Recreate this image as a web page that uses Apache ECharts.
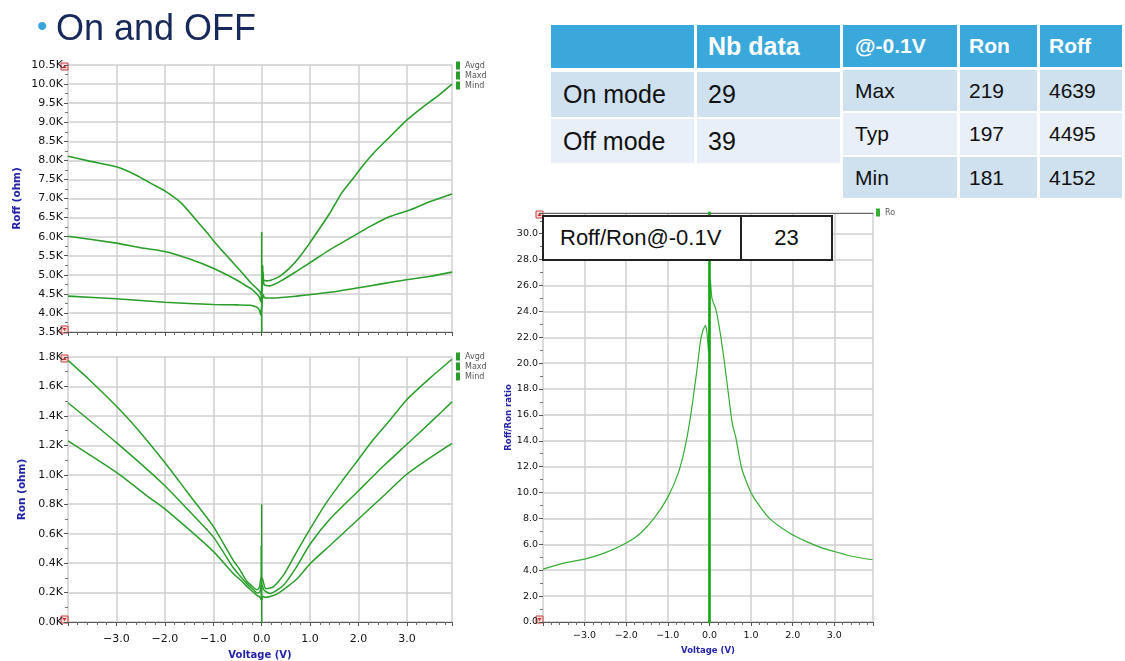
<!DOCTYPE html>
<html>
<head>
<meta charset="utf-8">
<script src="https://cdn.jsdelivr.net/npm/echarts@6/dist/echarts.min.js"></script>
<style>
  html,body{margin:0;padding:0;background:#fff;}
  #wrap{position:relative;width:1125px;height:661px;overflow:hidden;background:#fff;font-family:'Liberation Sans',Arial,sans-serif;}
  #chart{position:absolute;left:0;top:0;width:1125px;height:661px;}
  .cell{position:absolute;display:flex;align-items:center;box-sizing:border-box;white-space:nowrap;}
</style>
</head>
<body>
<div id="wrap">
  <div id="chart"></div>
</div>
<script>
// ---------------- data ----------------
const titleText = 'On and OFF';

const tableModes = ['On mode', 'Off mode'];
const tableNbHeader = 'Nb data';
const tableNb = [29, 39];

const statHeader = ['@-0.1V', 'Ron', 'Roff'];
const statRows = ['Max', 'Typ', 'Min'];
const statRon = [219, 197, 181];
const statRoff = [4639, 4495, 4152];

const ratioLabel = 'Roff/Ron@-0.1V';
const ratioAtMinus01 = 23;

const seriesNames = ['Avg data', 'Max data', 'Min data'];
const ratioName = 'Roff/Ron ratio';

// Roff (ohm) vs Voltage (V)
const roffMax = [[-4.0,8110],[-3.56,7980],[-3.0,7830],[-2.59,7610],[-2.25,7370],[-2.0,7200],[-1.66,6880],[-1.35,6430],[-1.14,6120],[-1.0,5900],[-0.73,5510],[-0.45,5120],[-0.24,4810],[-0.1,4640],[-0.04,4560],[-0.01,4480],[0.01,4900],[0.02,5250],[0.03,4870],[0.1,4840],[0.17,4850],[0.37,4960],[0.58,5180],[0.79,5480],[0.99,5830],[1.2,6220],[1.41,6620],[1.65,7140],[1.89,7530],[2.1,7880],[2.37,8270],[2.65,8620],[3.0,9060],[3.34,9410],[3.62,9670],[3.93,10000]];
const roffAvg = [[-4.0,6010],[-3.0,5830],[-2.5,5710],[-2.0,5610],[-1.5,5420],[-1.0,5170],[-0.5,4850],[-0.31,4700],[-0.2,4620],[-0.1,4495],[-0.05,4420],[-0.02,4300],[0.01,4700],[0.03,5050],[0.05,4740],[0.17,4710],[0.44,4870],[0.72,5090],[0.99,5310],[1.41,5660],[1.82,5960],[2.24,6270],[2.65,6530],[3.06,6700],[3.48,6920],[3.93,7120]];
const roffMin = [[-4.0,4440],[-3.0,4370],[-2.0,4280],[-1.0,4220],[-0.5,4210],[-0.24,4200],[-0.14,4170],[-0.1,4152],[-0.05,4080],[-0.02,3950],[0.01,4300],[0.03,4480],[0.06,4400],[0.24,4390],[0.72,4440],[1.41,4540],[2.1,4680],[2.79,4830],[3.48,4960],[3.93,5070]];
const roffSpike = [[0.0,3300],[0.0,6120]];

// Ron (ohm) vs Voltage (V)
const ronMax = [[-4.0,1777],[-3.56,1646],[-3.0,1466],[-2.59,1320],[-2.0,1083],[-1.56,892],[-1.0,650],[-0.59,420],[-0.46,360],[-0.31,278],[-0.18,238],[-0.1,219],[-0.05,232],[-0.02,290],[0.0,300],[0.02,290],[0.06,240],[0.1,226],[0.24,239],[0.45,318],[0.72,475],[1.0,633],[1.34,813],[1.69,971],[2.0,1106],[2.31,1241],[2.66,1376],[3.0,1511],[3.48,1658],[3.93,1785]];
const ronAvg = [[-4.0,1489],[-3.0,1218],[-2.0,926],[-1.5,755],[-1.0,578],[-0.59,370],[-0.46,318],[-0.31,262],[-0.18,222],[-0.1,197],[-0.04,205],[-0.01,240],[0.01,250],[0.05,215],[0.17,194],[0.45,250],[0.72,375],[1.0,530],[1.41,700],[2.0,892],[2.52,1061],[3.0,1207],[3.48,1354],[3.93,1495]];
const ronMin = [[-4.0,1230],[-3.0,1016],[-2.32,845],[-2.0,768],[-1.0,480],[-0.59,330],[-0.46,292],[-0.24,222],[-0.1,181],[-0.05,172],[-0.02,160],[0.0,150],[0.03,175],[0.07,167],[0.31,189],[0.72,290],[1.0,396],[1.41,520],[2.0,700],[2.52,858],[3.0,1005],[3.48,1117],[3.93,1214]];
const ronSpikeHigh = [[0.0,-30],[0.0,800]];
const ronSpikeLow = [[-0.01,150],[-0.01,520]];

// Roff/Ron ratio vs Voltage (V)
const ratio = [[-4.0,4.08],[-3.5,4.55],[-3.0,4.86],[-2.53,5.32],[-2.0,6.1],[-1.65,6.88],[-1.31,8.1],[-1.0,9.65],[-0.75,11.5],[-0.58,13.6],[-0.44,16.2],[-0.3,19.5],[-0.22,21.6],[-0.16,22.5],[-0.1,22.9],[-0.06,22.4],[-0.02,20.8],[0.02,26.5],[0.06,25.0],[0.15,24.2],[0.23,22.9],[0.35,20.3],[0.46,17.5],[0.55,15.3],[0.63,14.3],[0.78,11.8],[1.03,9.8],[1.43,8.05],[1.92,6.88],[2.32,6.23],[2.72,5.71],[3.0,5.45],[3.45,5.06],[3.92,4.81]];
const ratioSpike = [[0.0,-2],[0.0,40]];

// axis ranges
const vMin = -4, vMax = 3.93, vStep = 1;
const roffRange = [3500, 10500, 500];
const ronRange = [0, 1800, 200];
const ratioRange = [0, 31.6, 2];

// ---------------- HTML parts (title, tables, annotation) ----------------
const wrap = document.getElementById('wrap');
function cell(x, y, w, h, bg, text, css) {
  const d = document.createElement('div');
  d.className = 'cell';
  d.style.left = x + 'px'; d.style.top = y + 'px';
  d.style.width = w + 'px'; d.style.height = h + 'px';
  if (bg) d.style.background = bg;
  d.style.cssText += css || '';
  d.textContent = text;
  wrap.appendChild(d);
  return d;
}
const HEAD = '#3ba8dc', DARK = '#cfe0ef', LIGHT = '#e8eff8';

// title
const bullet = document.createElement('div');
bullet.style.cssText = "position:absolute;left:37px;top:11px;font-size:30px;line-height:30px;color:#3aa4dc;font-family:'Liberation Sans',Arial,sans-serif;";
bullet.textContent = '\u2022';
wrap.appendChild(bullet);
const t = document.createElement('div');
t.style.cssText = "position:absolute;left:56px;top:7px;font-size:36px;line-height:41px;color:#17295a;font-family:'Liberation Sans',Arial,sans-serif;white-space:nowrap;";
t.textContent = titleText;
wrap.appendChild(t);

// table 1
const t1x = [551, 697], t1w = [143, 143];
const t1y = [25, 72, 119], t1h = [43, 45, 44];
cell(t1x[0], t1y[0], t1w[0], t1h[0], HEAD, '');
cell(t1x[1], t1y[0], t1w[1], t1h[0], HEAD, tableNbHeader, 'color:#fff;font-weight:bold;font-size:25px;padding-left:11px;');
tableModes.forEach((m, i) => {
  const bg = i === 0 ? DARK : LIGHT;
  cell(t1x[0], t1y[i+1], t1w[0], t1h[i+1], bg, m, 'color:#111;font-size:25px;padding-left:12px;');
  cell(t1x[1], t1y[i+1], t1w[1], t1h[i+1], bg, String(tableNb[i]), 'color:#111;font-size:25px;padding-left:11px;');
});

// table 2
const t2x = [843, 960, 1040], t2w = [114, 77, 82];
const t2y = [25, 70, 113, 157], t2h = [42, 41, 42, 41];
statHeader.forEach((h, j) => cell(t2x[j], t2y[0], t2w[j], t2h[0], HEAD, h, 'color:#fff;font-weight:bold;font-size:21px;padding-left:' + (j === 0 ? 12 : 9) + 'px;'));
statRows.forEach((r, i) => {
  const bg = i === 1 ? LIGHT : DARK;
  const vals = [r, String(statRon[i]), String(statRoff[i])];
  vals.forEach((v, j) => cell(t2x[j], t2y[i+1], t2w[j], t2h[i+1], bg, v, 'color:#111;font-size:21px;padding-left:' + (j === 0 ? 12 : 9) + 'px;'));
});

// annotation box
const box = document.createElement('div');
box.style.cssText = 'position:absolute;left:542px;top:215px;width:291px;height:46px;box-sizing:border-box;border:2px solid #222;background:#fff;z-index:5;';
wrap.appendChild(box);
const bl = document.createElement('div');
bl.style.cssText = 'position:absolute;left:0;top:0;width:198px;height:42px;box-sizing:border-box;border-right:2px solid #222;display:flex;align-items:center;padding-left:16px;font-size:22px;color:#111;white-space:nowrap;';
bl.textContent = ratioLabel;
box.appendChild(bl);
const br = document.createElement('div');
br.style.cssText = 'position:absolute;left:198px;top:0;width:89px;height:42px;display:flex;align-items:center;justify-content:center;font-size:22px;color:#111;';
br.textContent = String(ratioAtMinus01);
box.appendChild(br);

// ---------------- chart ----------------
const FONT = 'DejaVu Sans';
const GREEN = '#2a9e2a';
const fmtK = v => (v / 1000).toFixed(1) + 'K';
const fmtV = v => v.toFixed(1).replace('-', '\u2212');
const NAMECOL = '#2424a8';

function xAxis(gi, labels, fs, margin, nameGap, nameFs) {
  return {
    type: 'value', gridIndex: gi, min: vMin, max: vMax, interval: vStep,
    axisLine: { show: true, onZero: false, lineStyle: { color: '#555', width: 1 } },
    axisTick: { show: true, length: 4, lineStyle: { color: '#555' } },
    minorTick: { show: true, splitNumber: 5, length: 3, lineStyle: { color: '#666' } },
    splitLine: { show: true, lineStyle: { color: '#cfcfcf', width: 1.5 } },
    axisLabel: { show: labels, formatter: fmtV, showMinLabel: false, showMaxLabel: false,
      fontSize: fs, color: '#111', fontFamily: FONT, margin: margin },
    name: labels ? 'Voltage (V)' : '', nameLocation: 'middle', nameGap: nameGap,
    nameTextStyle: { color: NAMECOL, fontWeight: 'bold', fontSize: nameFs, fontFamily: FONT }
  };
}
function yAxis(gi, range, fmt, name, nameGap, fs, nameFs, showMax) {
  return {
    type: 'value', gridIndex: gi, min: range[0], max: range[1], interval: range[2],
    axisLine: { show: false, onZero: false },
    axisTick: { show: true, length: 4, lineStyle: { color: '#555' } },
    minorTick: { show: true, splitNumber: 2, length: 3, lineStyle: { color: '#777' } },
    splitLine: { show: true, lineStyle: { color: '#cfcfcf', width: 1.5 } },
    axisLabel: { formatter: fmt, fontSize: fs, color: '#111', fontFamily: FONT, margin: 5, showMaxLabel: showMax },
    name: name, nameLocation: 'middle', nameGap: nameGap,
    nameTextStyle: { color: NAMECOL, fontWeight: 'bold', fontSize: nameFs, fontFamily: FONT }
  };
}
function line(name, data, xi, yi, width, color, smooth) {
  return { type: 'line', name, data, xAxisIndex: xi, yAxisIndex: yi, symbol: 'none', showSymbol: false,
    smooth: smooth ? 0.2 : false,
    lineStyle: { width: width, color: color }, itemStyle: { color: color }, clip: true, animation: false, z: 3 };
}
function legend(left, top, data, w) {
  return { left, top, orient: 'vertical', icon: 'rect', itemWidth: 4, itemHeight: 8, itemGap: 1, padding: 0,
    data, selectedMode: false, formatter: n => n.replace(' ', ''),
    textStyle: { fontSize: 8, color: '#555', fontFamily: FONT, lineHeight: 9, width: w, overflow: 'truncate', ellipsis: '' } };
}

const chart = echarts.init(document.getElementById('chart'), null, { renderer: 'canvas' });
const option = {
  animation: false,
  backgroundColor: 'transparent',
  textStyle: { fontFamily: FONT },
  grid: [
    { left: 68, top: 65, width: 384, height: 267 },
    { left: 68, top: 357, width: 384, height: 267 },
    { left: 543, top: 213, width: 330, height: 409 }
  ],
  xAxis: [
    xAxis(0, false, 11, 7, 25, 10),
    xAxis(1, true, 11, 12, 28, 10),
    xAxis(2, true, 9.5, 9, 18, 8.5),
    { type: 'value', gridIndex: 2, position: 'top', min: vMin, max: vMax,
      axisLine: { show: true, onZero: false, lineStyle: { color: '#666' } },
      axisTick: { show: false }, axisLabel: { show: false }, splitLine: { show: false } }
  ],
  yAxis: [
    yAxis(0, roffRange, fmtK, 'Roff (ohm)', 45, 11, 10.5, true),
    yAxis(1, ronRange, fmtK, 'Ron (ohm)', 40, 11, 10.5, true),
    yAxis(2, ratioRange, v => v.toFixed(1), 'Roff/Ron ratio', 28, 9.5, 8.5, false)
  ],
  legend: [
    legend(456, 61, seriesNames, 23),
    legend(456, 352, seriesNames, 23),
    legend(876, 208, [ratioName], 12)
  ],
  series: [
    line(seriesNames[0], roffAvg, 0, 0, 1.6, GREEN, true),
    line(seriesNames[1], roffMax, 0, 0, 1.6, GREEN, true),
    line(seriesNames[2], roffMin, 0, 0, 1.6, GREEN, true),
    line(seriesNames[0], roffSpike, 0, 0, 1.6, GREEN, false),
    line(seriesNames[0], ronAvg, 1, 1, 1.5, GREEN, true),
    line(seriesNames[1], ronMax, 1, 1, 1.5, GREEN, true),
    line(seriesNames[2], ronMin, 1, 1, 1.5, GREEN, true),
    line(seriesNames[0], ronSpikeHigh, 1, 1, 1.5, GREEN, false),
    line(seriesNames[1], ronSpikeLow, 1, 1, 1.5, GREEN, false),
    line(ratioName, ratio, 2, 2, 1.2, '#35ad35', true),
    line(ratioName, ratioSpike, 2, 2, 2.6, '#14a814', false)
  ]
};
chart.setOption(option);

// small red scroll markers at the ends of each y axis
function marker(x, y, up) {
  return { type: 'group', x: x, y: y, z: 10, children: [
    { type: 'rect', shape: { x: 0, y: 0, width: 7, height: 7 }, style: { fill: '#f7dada', stroke: '#c84040', lineWidth: 1 } },
    { type: 'polygon', shape: { points: up ? [[1.5,5],[5.5,5],[3.5,2]] : [[1.5,2],[5.5,2],[3.5,5]] }, style: { fill: '#c83030' } }
  ]};
}
const ranges = [roffRange, ronRange, ratioRange];
const gfx = [];
ranges.forEach((r, gi) => {
  const top = chart.convertToPixel({ gridIndex: gi }, [vMin, r[1]]);
  const bot = chart.convertToPixel({ gridIndex: gi }, [vMin, r[0]]);
  gfx.push(marker(top[0] - 7, top[1] - 2, true));
  gfx.push(marker(bot[0] - 7, bot[1] - 6, false));
});
chart.setOption({ graphic: gfx });
</script>
</body>
</html>
